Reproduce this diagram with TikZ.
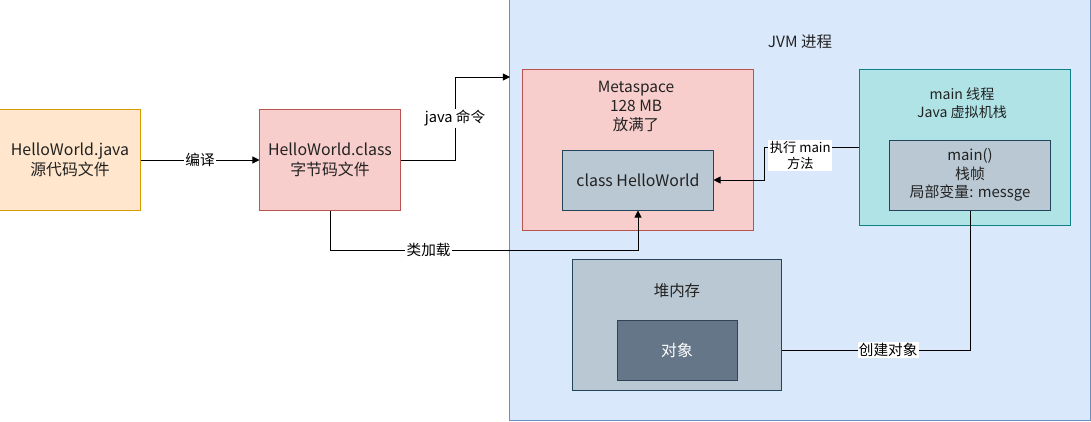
\documentclass[tikz,border=0pt]{standalone}
\usepackage{fontspec}
\setmainfont{Noto Sans CJK SC}
\usetikzlibrary{arrows.meta}

\definecolor{srcfill}{HTML}{FFE6CC}
\definecolor{srcdraw}{HTML}{D79B00}
\definecolor{redfill}{HTML}{F8CECC}
\definecolor{reddraw}{HTML}{B85450}
\definecolor{jvmfill}{HTML}{DAE8FC}
\definecolor{jvmdraw}{HTML}{6C8EBF}
\definecolor{tealfill}{HTML}{B0E3E6}
\definecolor{tealdraw}{HTML}{0E8088}
\definecolor{grayfill}{HTML}{BAC8D3}
\definecolor{graydraw}{HTML}{23445D}
\definecolor{objfill}{HTML}{647687}
\definecolor{objdraw}{HTML}{314354}
\definecolor{txt}{HTML}{222222}

\tikzset{
  box/.style={draw, line width=0.7pt, align=center, inner sep=0pt, text=txt,
    font=\fontsize{11.3}{14.2}\selectfont},
  title/.style={align=center, text=txt, font=\fontsize{11}{13.5}\selectfont},
  lbl/.style={fill=white, inner sep=1pt, align=center, text=black,
    font=\fontsize{10.4}{12}\selectfont},
  arr/.style={-{Triangle[length=5pt,width=5pt]}, line width=0.6pt},
  wire/.style={line width=0.6pt}
}

\begin{document}
\begin{tikzpicture}[x=0.025cm, y=-0.025cm]
  \useasboundingbox (0,0) rectangle (1091,421);

  % source and class files
  \node[box, fill=srcfill, draw=srcdraw, minimum width=3.5cm, minimum height=2.5cm]
    (java) at (70,160) {HelloWorld.java\\源代码文件};
  \node[box, fill=redfill, draw=reddraw, minimum width=3.5cm, minimum height=2.5cm]
    (cls) at (330,160) {HelloWorld.class\\字节码文件};

  % jvm process
  \node[box, fill=jvmfill, draw=jvmdraw, minimum width=14.5cm, minimum height=10.5cm]
    (jvm) at (800,210) {};
  \node[title] (jvmtitle) at (800,42) {JVM 进程};

  % metaspace
  \node[box, fill=redfill, draw=reddraw, minimum width=5.75cm, minimum height=4cm]
    (meta) at (638,150) {};
  \node[title, anchor=north] (metatext) at (636,76) {Metaspace\\128 MB\\放满了};
  \node[box, fill=grayfill, draw=graydraw, minimum width=3.75cm, minimum height=1.5cm]
    (hw) at (638,180) {class HelloWorld};

  % main thread
  \node[box, fill=tealfill, draw=tealdraw, minimum width=5.25cm, minimum height=3.875cm]
    (thread) at (965,147.5) {};
  \node[title, anchor=north, font=\fontsize{10}{12.5}\selectfont]
    (threadtext) at (962,83) {main 线程\\Java 虚拟机栈};
  \node[box, fill=grayfill, draw=graydraw, minimum width=4cm, minimum height=1.75cm,
    font=\fontsize{10.6}{13}\selectfont]
    (frame) at (970,175) {main()\\栈帧\\局部变量: messge};

  % heap
  \node[box, fill=grayfill, draw=graydraw, minimum width=5.2cm, minimum height=3.25cm]
    (heap) at (677,325) {};
  \node[title] (heaptext) at (677,291) {堆内存};
  \node[box, fill=objfill, draw=objdraw, minimum width=3cm, minimum height=1.5cm, text=white]
    (obj) at (677,350) {对象};

  % connectors
  \coordinate (jvmin) at (510,77);
  \draw[arr] (java) -- node[lbl] {编译} (cls);
  \draw[arr] (cls.east) -- (455,160) |- node[lbl, pos=0.25] {java 命令} (jvmin);
  \draw[arr] (cls.south) -- (330,250) -| node[lbl, pos=0.16] {类加载} (hw.south);
  \draw[arr] (thread.west) -- node[lbl, pos=0.62, yshift=-0.2cm,
    font=\fontsize{9.4}{10.8}\selectfont] {执行 main\\方法} (764,147.5) |- (hw.east);
  \draw[wire] (frame.south) |- node[lbl, pos=0.717] {创建对象} (heap.east |- obj);
\end{tikzpicture}
\end{document}
